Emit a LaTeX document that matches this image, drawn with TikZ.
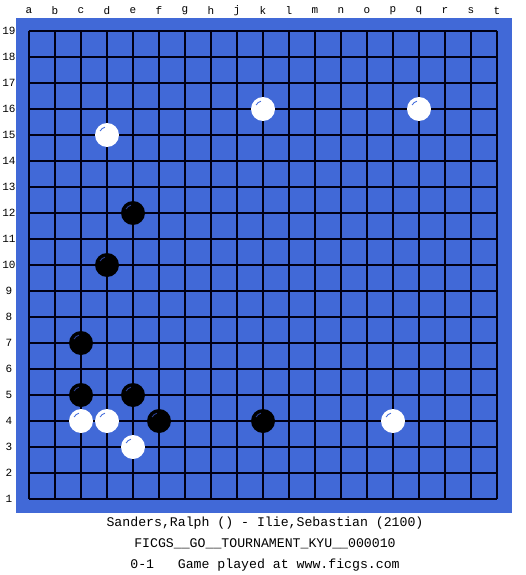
\documentclass[tikz,border=0pt]{standalone}
\usepackage{fontspec}
\setmonofont{Liberation Mono}
\usepackage{tikz}
\usepackage{xcolor}
\definecolor{gobg}{RGB}{65,105,215}
\definecolor{goline}{RGB}{0,0,20}
\definecolor{goshine}{RGB}{70,110,220}
\definecolor{goshineb}{RGB}{40,60,140}
\tikzstyle{board} = [fill=gobg, draw=none]
\tikzstyle{gridline} = [line width=1.2pt, color=goline]
\tikzstyle{coordlabel} = [inner sep=0pt, font=\ttfamily\fontsize{11}{11}\selectfont]
\tikzstyle{whitestone} = [circle, minimum size=24pt, inner sep=0pt, fill=white]
\tikzstyle{blackstone} = [circle, minimum size=24pt, inner sep=0pt, fill=black]
\tikzstyle{gameinfo} = [inner sep=0pt, font=\ttfamily\fontsize{13.2}{13.2}\selectfont]

\begin{document}
\begin{tikzpicture}[x=1pt, y=-1pt]
\useasboundingbox (0,0) rectangle (525,575);

% Board
\fill[board] (16,18) rectangle (512,513);

% Grid
\foreach \i in {0,...,18} {
  \draw[gridline] (29+26*\i,31) -- (29+26*\i,499);
  \draw[gridline] (29,31+26*\i) -- (497,31+26*\i);
}

% Column letters (no i)
\foreach \c [count=\i from 0] in {a,b,c,d,e,f,g,h,j,k,l,m,n,o,p,q,r,s,t}
  \node[coordlabel] (col-\c) at (29+26*\i,11) {\c};

% Row numbers
\foreach \r in {1,...,19}
  \node[coordlabel] (row-\r) at (9,31+26*19-26*\r) {\r};

% White stones
\foreach \n/\i/\r in {k16/9/16, q16/15/16, d15/3/15, c4/2/4, d4/3/4, e3/4/3, p4/14/4} {
  \node[whitestone] (w-\n) at (29+26*\i,31+26*19-26*\r) {};
  \draw[goshine, line width=0.9pt] (w-\n.center) ++(-150:8) arc (-150:-105:8);
}

% Black stones
\foreach \n/\i/\r in {e12/4/12, d10/3/10, c7/2/7, c5/2/5, e5/4/5, f4/5/4, k4/9/4} {
  \node[blackstone] (b-\n) at (29+26*\i,31+26*19-26*\r) {};
  \draw[goshineb, line width=0.9pt] (b-\n.center) ++(-150:8) arc (-150:-105:8);
}

% Game info
\node[gameinfo] (players) at (265,523) {Sanders,Ralph () - Ilie,Sebastian (2100)};
\node[gameinfo] (event) at (265,544) {FICGS\_\_GO\_\_TOURNAMENT\_KYU\_\_000010};
\node[gameinfo] (result) at (265,565) {0-1\ \ \ Game played at www.ficgs.com};
\end{tikzpicture}
\end{document}
